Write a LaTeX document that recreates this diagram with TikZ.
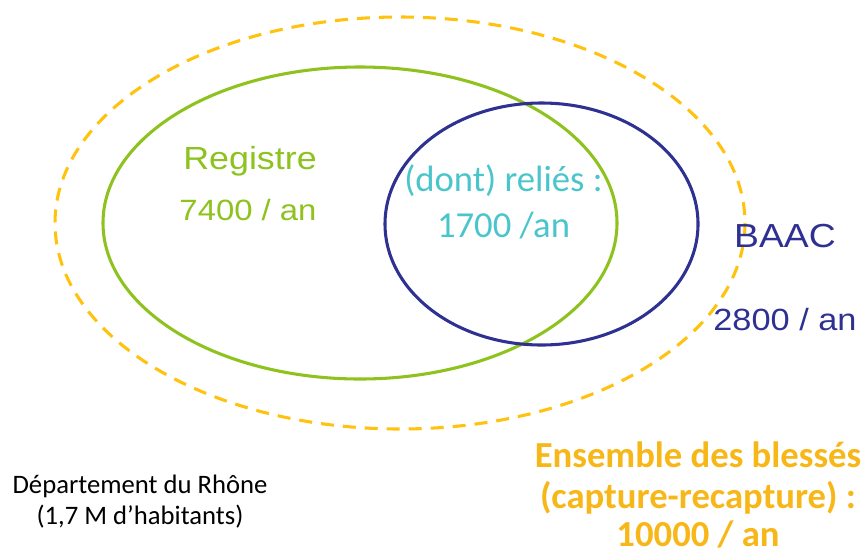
\documentclass[tikz,border=0pt]{standalone}
\usepackage{fontspec}
\setmainfont{Carlito}
\newfontfamily\arialfont{Liberation Sans}
\usepackage{tikz}
\definecolor{regreen}{HTML}{8DC21F}
\definecolor{baacblue}{HTML}{2E3192}
\definecolor{linkcyan}{HTML}{4BC5CC}
\definecolor{allgold}{HTML}{FFC20E}
\definecolor{allorange}{HTML}{F7B719}

\begin{document}
\begin{tikzpicture}[x=0.75pt, y=-0.75pt,
    label/.style={anchor=base, inner sep=0pt},
    wide/.style={xscale=1.12, transform shape},
    ring/.style={line width=2.3pt}]
    \useasboundingbox (0,0) rectangle (866,554);

    % les trois ensembles
    \draw [ring, allgold, dash pattern=on 9.75pt off 6.75pt] (400,223) ellipse [x radius=345, y radius=206];
    \draw [ring, regreen] (360,223) ellipse [x radius=257, y radius=156];
    \draw [ring, baacblue] (541.5,224) ellipse [x radius=156.5, y radius=121];

    \node [label, wide, text=regreen, font=\arialfont\fontsize{24}{28}\selectfont] (reg) at (250,169) {Registre};
    \node [label, wide, text=regreen, font=\arialfont\fontsize{22}{26}\selectfont] (regn) at (248,220) {7400 / an};
    \node [label, text=linkcyan, font=\fontsize{27.5}{32}\selectfont] (link) at (503.5,191) {(dont) reliés :};
    \node [label, text=linkcyan, font=\fontsize{27.5}{32}\selectfont] (linkn) at (503.5,237) {1700 /an};
    \node [label, wide, text=baacblue, font=\arialfont\fontsize{25}{29}\selectfont] (baac) at (785,247) {BAAC};
    \node [label, wide, text=baacblue, font=\arialfont\fontsize{23}{27}\selectfont] (baacn) at (785,330) {2800 / an};

    \node [label, text=allorange, font=\bfseries\fontsize{27.5}{32}\selectfont] (all) at (698,467) {Ensemble des blessés};
    \node [label, text=allorange, font=\bfseries\fontsize{27.5}{32}\selectfont] (allm) at (698,508) {(capture-recapture) :};
    \node [label, text=allorange, font=\bfseries\fontsize{27.5}{32}\selectfont] (alln) at (698,546) {10000 / an};

    \node [label, font=\fontsize{20}{24}\selectfont] (dep) at (140,493) {Département du Rhône};
    \node [label, font=\fontsize{20}{24}\selectfont] (pop) at (140,524) {(1,7 M d’habitants)};
\end{tikzpicture}
\end{document}
